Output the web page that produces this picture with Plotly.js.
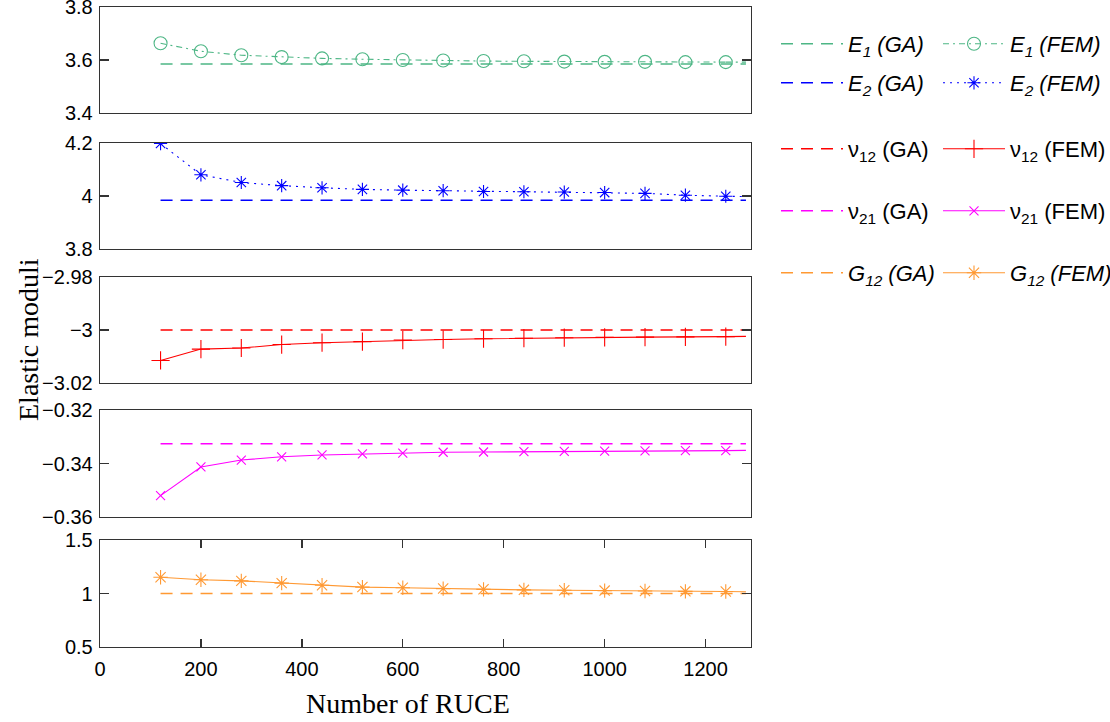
<!DOCTYPE html>
<html>
<head>
<meta charset="utf-8">
<script src="https://cdn.plot.ly/plotly-3.0.1.min.js"></script>
<style>html,body{margin:0;padding:0;background:#fff;}#chart{width:1110px;height:722px;}</style>
</head>
<body>
<div id="chart"></div>
<script>
// ---- data ----
const xFEM = [120,200,280,360,440,520,600,680,760,840,920,1000,1080,1160,1240];
const xTail = [1240,1280];
const xGA = [120,1280];

const E1_GA = 3.585;
const E1_FEM = [3.663,3.633,3.618,3.611,3.606,3.603,3.600,3.598,3.596,3.595,3.594,3.593,3.593,3.592,3.592];
const E1_tail = 3.592;

const E2_GA = 3.984;
const E2_FEM = [4.198,4.080,4.051,4.039,4.031,4.025,4.022,4.020,4.017,4.016,4.015,4.013,4.010,4.003,3.999];
const E2_tail = 3.998;

const v12_GA = -3.0;
const v12_FEM = [-3.0115,-3.0072,-3.0068,-3.0055,-3.0048,-3.0044,-3.0038,-3.0036,-3.0033,-3.0031,-3.0029,-3.0028,-3.0027,-3.0026,-3.0025];
const v12_tail = -3.0024;

const v21_GA = -0.3326;
const v21_FEM = [-0.3520,-0.3413,-0.3387,-0.3375,-0.3368,-0.3364,-0.3361,-0.3358,-0.3357,-0.3356,-0.3355,-0.3354,-0.3353,-0.3352,-0.3352];
const v21_tail = -0.3351;

const G12_GA = 1.0;
const G12_FEM = [1.152,1.128,1.118,1.097,1.077,1.060,1.054,1.046,1.039,1.034,1.030,1.027,1.023,1.020,1.018];
const G12_tail = 1.016;

const yRanges = [[3.4,3.8],[3.8,4.2],[-3.02,-2.98],[-0.36,-0.32],[0.5,1.5]];
const yTickVals = [[3.4,3.6,3.8],[3.8,4,4.2],[-3.02,-3,-2.98],[-0.36,-0.34,-0.32],[0.5,1,1.5]];
const yTickText = [['3.4','3.6','3.8'],['3.8','4','4.2'],['−3.02','−3','−2.98'],['−0.36','−0.34','−0.32'],['0.5','1','1.5']];
const xTickVals = [0,200,400,600,800,1000,1200];

const names = {
  E1GA:'<i>E<sub>1</sub> (GA)</i>', E1FEM:'<i>E<sub>1</sub> (FEM)</i>',
  E2GA:'<i>E<sub>2</sub> (GA)</i>', E2FEM:'<i>E<sub>2</sub> (FEM)</i>',
  v12GA:'ν<sub>12</sub> (GA)', v12FEM:'ν<sub>12</sub> (FEM)',
  v21GA:'ν<sub>21</sub> (GA)', v21FEM:'ν<sub>21</sub> (FEM)',
  G12GA:'<i>G<sub>12</sub> (GA)</i>', G12FEM:'<i>G<sub>12</sub> (FEM)</i>'
};

// ---- styles ----
const series = [
  {ga:E1_GA, fem:E1_FEM, tail:E1_tail, color:'#4DB685', dash:'6px,4px,2px,4px', sym:'circle-open', size:13, nGA:names.E1GA, nFEM:names.E1FEM},
  {ga:E2_GA, fem:E2_FEM, tail:E2_tail, color:'#0000FF', dash:'2px,5px', sym:'asterisk-open', size:11, nGA:names.E2GA, nFEM:names.E2FEM},
  {ga:v12_GA, fem:v12_FEM, tail:v12_tail, color:'#FF0000', dash:'solid', sym:'cross-thin-open', size:13, nGA:names.v12GA, nFEM:names.v12FEM},
  {ga:v21_GA, fem:v21_FEM, tail:v21_tail, color:'#FF00FF', dash:'solid', sym:'x-thin-open', size:9, nGA:names.v21GA, nFEM:names.v21FEM},
  {ga:G12_GA, fem:G12_FEM, tail:G12_tail, color:'#FF9933', dash:'solid', sym:'asterisk-open', size:12, nGA:names.G12GA, nFEM:names.G12FEM}
];

// legend rows (pixel y of row centre)
const legendRowY = [44, 83, 149, 211, 273];

const mL = 100, mR = 359, mT = 7, mB = 75;
const W = 1110, H = 722;
const pw = W - mL - mR, ph = H - mT - mB;
const panelPx = [[7,113],[143,249],[277,383],[410,517],[540,647]];
const toPaperY = py => (H - mB - py) / ph;
const toPaperX = px => (px - mL) / pw;

const data = [];
const layout = {
  width: W, height: H,
  margin: {l:mL, r:mR, t:mT, b:mB, autoexpand:false},
  paper_bgcolor:'#fff', plot_bgcolor:'#fff',
  font: {family:'Arial, "Liberation Sans", sans-serif', size:20, color:'#000'},
  showlegend: true,
  annotations: [
    {text:'Elastic moduli', xref:'paper', yref:'paper', x:toPaperX(28), y:toPaperY(340), textangle:-90,
     xanchor:'center', yanchor:'middle',
     showarrow:false, font:{family:'"Liberation Serif", "Times New Roman", serif', size:28, color:'#000'}},
    {text:'Number of RUCE', xref:'paper', yref:'paper', x:toPaperX(408), y:toPaperY(703),
     xanchor:'center', yanchor:'middle',
     showarrow:false, font:{family:'"Liberation Serif", "Times New Roman", serif', size:28, color:'#000'}}
  ]
};

series.forEach((s, i) => {
  const k = i + 1;
  const xa = k === 1 ? 'x' : 'x' + k;
  const ya = k === 1 ? 'y' : 'y' + k;
  const lgA = 'legend' + (2*i + 1 === 1 ? '' : (2*i + 1));
  const lgB = 'legend' + (2*i + 2);
  data.push({
    x: xGA, y: xGA.map(() => s.ga), xaxis: xa, yaxis: ya, mode:'lines', name: s.nGA, legend: lgA,
    line: {color: s.color, width: 1.5, dash: '12px,8px'}
  });
  data.push({
    x: xFEM, y: s.fem, xaxis: xa, yaxis: ya, mode:'lines+markers', name: s.nFEM, legend: lgB,
    line: {color: s.color, width: 1.1, dash: s.dash},
    marker: {symbol: s.sym, size: s.size, color: s.color, line:{color:s.color, width:1.1}}
  });
  data.push({
    x: xTail, y: [s.fem[s.fem.length-1], s.tail], xaxis: xa, yaxis: ya, mode:'lines', showlegend:false,
    line: {color: s.color, width: 1.1, dash: s.dash}, hoverinfo:'skip'
  });

  const [top, bot] = panelPx[i];
  const isBottom = k === 5;
  layout[k === 1 ? 'xaxis' : 'xaxis' + k] = {
    domain: [0, 1], anchor: ya, range: [0, 1290],
    showline: true, linecolor:'#333', linewidth:1.3, mirror: isBottom ? 'ticks' : true,
    showgrid:false, zeroline:false,
    ticks: isBottom ? 'inside' : '', ticklen: 8, tickcolor:'#333', tickwidth:1.3,
    tickvals: xTickVals, showticklabels: isBottom, ticklabelstandoff: 4,
    tickfont: {size:20}
  };
  layout[k === 1 ? 'yaxis' : 'yaxis' + k] = {
    domain: [toPaperY(bot), toPaperY(top)], anchor: xa, range: yRanges[i],
    tickvals: yTickVals[i], ticktext: yTickText[i], ticklabeloverflow:'allow',
    showline: true, linecolor:'#333', linewidth:1.3, mirror:'ticks',
    showgrid:false, zeroline:false,
    ticks:'inside', ticklen:9, tickcolor:'#333', tickwidth:1.3, ticklabelstandoff: 2,
    tickfont: {size:20}
  };

  const ly = toPaperY(legendRowY[i]);
  layout[lgA === 'legend' ? 'legend' : lgA] = {
    x: toPaperX(776), y: ly, xanchor:'left', yanchor:'middle', itemwidth: 62,
    bgcolor:'rgba(0,0,0,0)', borderwidth:0, font:{size:22}
  };
  layout[lgB] = {
    x: toPaperX(938), y: ly, xanchor:'left', yanchor:'middle', itemwidth: 62,
    bgcolor:'rgba(0,0,0,0)', borderwidth:0, font:{size:22}
  };
});

Plotly.newPlot('chart', data, layout, {displayModeBar:false, staticPlot:true});
</script>
</body>
</html>
